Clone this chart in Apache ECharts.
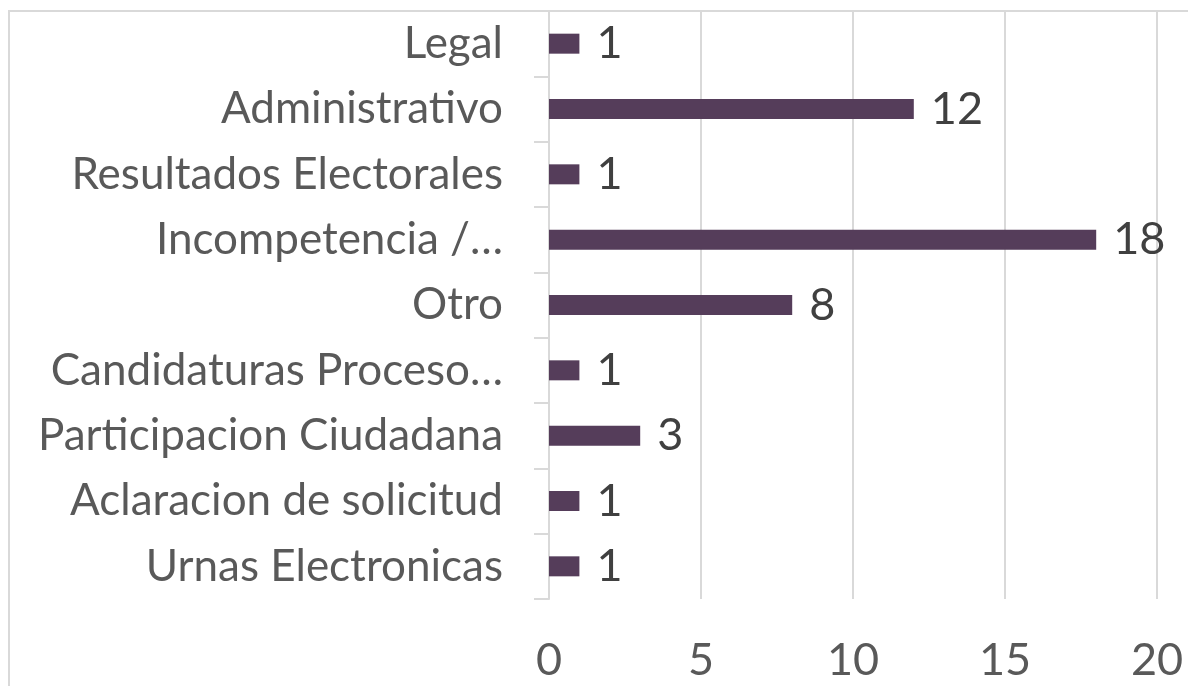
<!DOCTYPE html>
<html>
<head>
<meta charset="utf-8">
<script src="https://cdn.jsdelivr.net/npm/echarts@6/dist/echarts.min.js"></script>
<style>
html,body{margin:0;padding:0;background:#fff;}
#chart{width:1188px;height:686px;}
</style>
</head>
<body>
<div id="chart"></div>
<script>
var categories = ["Legal", "Administrativo", "Resultados Electorales", "Incompetencia /…", "Otro", "Candidaturas Proceso…", "Participacion Ciudadana", "Aclaracion de solicitud", "Urnas Electronicas"];
var values = [1, 12, 1, 18, 8, 1, 3, 1, 1];
var xTicks = [0, 5, 10, 15, 20];

var FONT = "Lato, 'Open Sans', sans-serif";
var chart = echarts.init(document.getElementById('chart'));
chart.setOption({
  backgroundColor: '#ffffff',
  animation: false,
  grid: { left: 549, right: 31, top: 11, bottom: 87, containLabel: false },
  graphic: [{
    type: 'rect', silent: true, z: -1,
    shape: { x: 9, y: 11, width: 1200, height: 700 },
    style: { fill: 'none', stroke: '#d9d9d9', lineWidth: 2 }
  }],
  xAxis: {
    type: 'value', min: xTicks[0], max: xTicks[xTicks.length - 1], interval: xTicks[1] - xTicks[0],
    axisLine: { show: false }, axisTick: { show: false },
    splitLine: { show: true, lineStyle: { color: '#d9d9d9', width: 2 } },
    axisLabel: { fontFamily: FONT, fontSize: 45, color: '#595959', margin: 39 }
  },
  yAxis: {
    type: 'category', data: categories, inverse: true,
    axisLine: { show: true, lineStyle: { color: '#d9d9d9', width: 2 } },
    axisTick: { show: true, length: 15, lineStyle: { color: '#d9d9d9', width: 2 } },
    axisLabel: { fontFamily: FONT, fontSize: 44, color: '#595959', margin: 46 }
  },
  series: [{
    type: 'bar', data: values, barWidth: 20,
    itemStyle: { color: '#553d5a' },
    label: { show: true, position: 'right', distance: 17, fontFamily: FONT, fontSize: 45, color: '#404040' }
  }]
});
</script>
</body>
</html>
